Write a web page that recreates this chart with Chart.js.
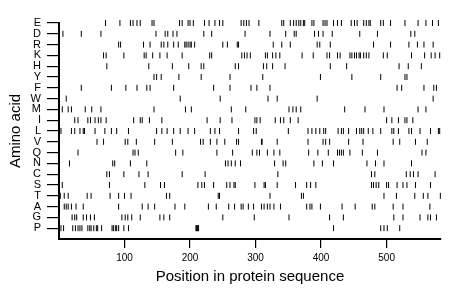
<!DOCTYPE html>
<html>
<head>
<meta charset="utf-8">
<script src="https://cdn.jsdelivr.net/npm/chart.js@4/dist/chart.umd.min.js"></script>
<style>
html,body{margin:0;padding:0;background:#fff;}
#c{display:block;}
</style>
</head>
<body>
<canvas id="c" width="460" height="299"></canvas>
<script>
// Amino acid labels, top to bottom
const aminoAcids = ["E","D","R","K","H","Y","F","W","M","I","L","V","Q","N","C","S","T","A","G","P"];
const xTicks = [100,200,300,400,500];
const seqLength = 583;

// Positions of each residue in the sequence
const posE = [71,93,109,113,119,124,142,145,184,188,197,200,205,222,229,238,245,250,278,282,286,290,305,340,343,353,358,362,366,369,373,375,386,389,403,406,409,419,425,431,446,451,455,465,469,473,475,491,495,506,528,548,560,570,579];
const posD = [6,34,64,148,162,166,174,180,221,233,284,322,346,359,362,390,396,403,417,459,486,537,543];
const posR = [91,94,129,139,156,160,166,175,182,192,194,197,200,202,207,250,257,272,274,327,340,353,394,398,414,480,506,534,547,557,571];
const posK = [68,72,99,130,133,143,154,165,188,230,233,279,283,287,292,315,318,326,331,337,371,388,409,413,425,429,444,447,451,454,458,460,465,469,473,495,501,538,558,568,574,581];
const posH = [73,137,173,198,217,221,269,274,312,317,326,345,414,439,519,533,553];
const posY = [145,149,156,183,217,261,311,399,447,491,528,531];
const posF = [34,80,102,119,134,139,175,236,261,293,302,322,516,523,557,572,576];
const posW = [11,185,246,319,333,394,571];
const posM = [5,14,19,40,50,64,145,193,202,263,285,351,357,362,369,436,467,496,548,560];
const posI = [24,29,44,48,55,60,64,72,114,124,127,138,157,226,246,264,299,302,307,330,338,343,353,365,500,508,518,528,531,540];
const posL = [3,19,24,32,37,39,55,70,80,88,106,149,157,165,175,185,197,207,231,238,245,274,297,301,350,380,386,392,398,404,407,426,431,434,442,454,459,462,465,472,479,491,508,511,518,534,538,551,567,579,581];
const posV = [58,68,101,105,118,146,173,216,220,231,241,253,271,274,309,310,333,380,403,407,413,442,464,510,520,544,562];
const posQ = [29,113,116,121,178,189,241,265,295,302,306,318,328,337,381,395,411,425,428,431,434,444,463,486,554,560];
const posN = [16,82,85,109,134,254,258,263,269,277,329,342,346,389,402,419,470,483,496,538];
const posC = [73,77,99,122,136,188,223,334,477,482,530,536,541,548,574];
const posS = [5,77,131,155,161,212,218,222,236,256,261,267,269,299,313,315,333,361,378,384,392,477,480,484,488,500,503,516,525,531,544,567];
const posT = [2,8,14,43,49,78,91,100,110,164,169,243,245,322,370,373,496,515,543,556,563,582];
const posA = [8,11,14,19,26,37,91,127,136,146,177,192,228,240,259,268,278,281,289,297,309,313,318,322,328,338,378,383,386,399,432,452,478,482,510,525,566];
const posG = [20,24,27,37,42,48,54,96,101,105,111,124,154,160,169,250,298,351,413,434,511,525,551,563,567,576];
const posP = [3,7,21,25,29,32,35,44,47,49,53,57,59,65,81,83,86,88,91,99,106,209,210,211,212,213,419,491,496,501,520];

const positions = {E:posE,D:posD,R:posR,K:posK,H:posH,Y:posY,F:posF,W:posW,M:posM,I:posI,L:posL,V:posV,Q:posQ,N:posN,C:posC,S:posS,T:posT,A:posA,G:posG,P:posP};

const n = aminoAcids.length;
const points = [];
aminoAcids.forEach((aa, i) => {
  const yv = n - i; // E at top (20), P at bottom (1)
  positions[aa].forEach(x => points.push({x: x, y: yv}));
});

const fam = 'Liberation Sans, Arial, Helvetica, sans-serif';

new Chart(document.getElementById('c'), {
  type: 'scatter',
  data: {
    datasets: [{
      data: points,
      pointStyle: 'line',
      rotation: 90,
      radius: 3,
      pointRadius: 3,
      pointHoverRadius: 3,
      borderColor: '#000',
      backgroundColor: '#000',
      borderWidth: 1,
      pointBorderWidth: 1,
      clip: false
    }]
  },
  options: {
    responsive: false,
    devicePixelRatio: 1,
    animation: false,
    events: [],
    layout: {padding: {top: 23, right: 19, bottom: 0, left: 0}},
    plugins: {legend: {display: false}, tooltip: {enabled: false}},
    scales: {
      x: {
        type: 'linear',
        min: 0,
        max: seqLength,
        afterBuildTicks: s => { s.ticks = xTicks.map(v => ({value: v})); },
        afterFit: s => { s.height = 60; },
        border: {display: true, color: '#000', width: 2},
        grid: {drawOnChartArea: false, drawTicks: true, tickLength: 9, color: '#000', lineWidth: 1.2},
        ticks: {color: '#000', font: {family: fam, size: 10}, padding: 4, maxRotation: 0},
        title: {display: true, text: 'Position in protein sequence', color: '#000', font: {family: fam, size: 15}, padding: {top: 0, bottom: 13}}
      },
      y: {
        type: 'linear',
        min: 0,
        max: n,
        afterBuildTicks: s => { s.ticks = aminoAcids.map((a, i) => ({value: n - i})); },
        afterFit: s => { s.width = 59; },
        border: {display: true, color: '#000', width: 2},
        grid: {drawOnChartArea: false, drawTicks: true, tickLength: 12, color: '#000', lineWidth: 1.2},
        ticks: {
          color: '#000',
          autoSkip: false,
          padding: 6,
          font: {family: fam, size: 11},
          callback: v => aminoAcids[n - v]
        },
        title: {display: true, text: 'Amino acid', color: '#000', font: {family: fam, size: 15}, padding: {top: 7, bottom: 0}}
      }
    }
  }
});
</script>
</body>
</html>
